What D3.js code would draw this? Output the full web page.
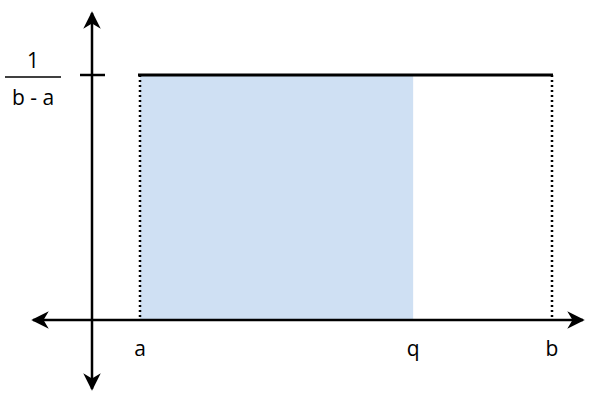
<!DOCTYPE html>
<html><head><meta charset="utf-8">
<script src="https://cdn.jsdelivr.net/npm/d3@7"></script>
<style>body{margin:0;background:#fff}</style></head>
<body><svg id="c" width="590" height="400"></svg>
<script>
const xLabels = ["a","q","b"];
const xValues = [0, 0.663, 1];
const density = [1];
const yLabelTop = "1", yLabelBottom = "b - a";

const svg = d3.select("#c");
const x = d3.scaleLinear().domain([0,1]).range([140,552]);
const y = d3.scaleLinear().domain([0,1]).range([320,75]);
const defs = svg.append("defs");
defs.append("marker").attr("id","ar").attr("viewBox","0 0 10 10").attr("refX",9).attr("refY",5)
  .attr("markerWidth",7).attr("markerHeight",7).attr("orient","auto-start-reverse")
  .append("path").attr("d","M0,0L10,5L0,10L3,5Z").attr("fill","#000");

// shaded area a..q
svg.append("rect").attr("x",x(xValues[0])).attr("y",y(density[0]))
  .attr("width",x(xValues[1])-x(xValues[0])).attr("height",y(0)-y(density[0])).attr("fill","#cfe0f3");
// dotted verticals
[xValues[0],xValues[2]].forEach(v=>svg.append("line").attr("x1",x(v)).attr("x2",x(v))
  .attr("y1",y(density[0])).attr("y2",y(0)).attr("stroke","#000").attr("stroke-width",2.5).attr("stroke-dasharray","2,3"));
// top line
svg.append("line").attr("x1",x(0)-2).attr("x2",x(1)+1).attr("y1",y(1)).attr("y2",y(1)).attr("stroke","#000").attr("stroke-width",3);
// axes
svg.append("line").attr("x1",33).attr("x2",583).attr("y1",y(0)).attr("y2",y(0)).attr("stroke","#000").attr("stroke-width",2.5)
  .attr("marker-start","url(#ar)").attr("marker-end","url(#ar)");
svg.append("line").attr("x1",92).attr("x2",92).attr("y1",13).attr("y2",389).attr("stroke","#000").attr("stroke-width",2.5)
  .attr("marker-start","url(#ar)").attr("marker-end","url(#ar)");
// tick
svg.append("line").attr("x1",80).attr("x2",105).attr("y1",y(1)).attr("y2",y(1)).attr("stroke","#000").attr("stroke-width",2.5);
// labels
const f = "Open Sans, Liberation Sans, sans-serif";
xLabels.forEach((t,i)=>svg.append("text").attr("x",x(xValues[i])).attr("y",356).attr("text-anchor","middle")
  .attr("font-family",f).attr("font-size",21).text(t));
svg.append("text").attr("x",33).attr("y",68).attr("text-anchor","middle").attr("font-family",f).attr("font-size",21).text(yLabelTop);
svg.append("line").attr("x1",5).attr("x2",61).attr("y1",77).attr("y2",77).attr("stroke","#000").attr("stroke-width",1.5);
svg.append("text").attr("x",33).attr("y",105).attr("text-anchor","middle").attr("font-family",f).attr("font-size",21).text(yLabelBottom);
</script></body></html>
